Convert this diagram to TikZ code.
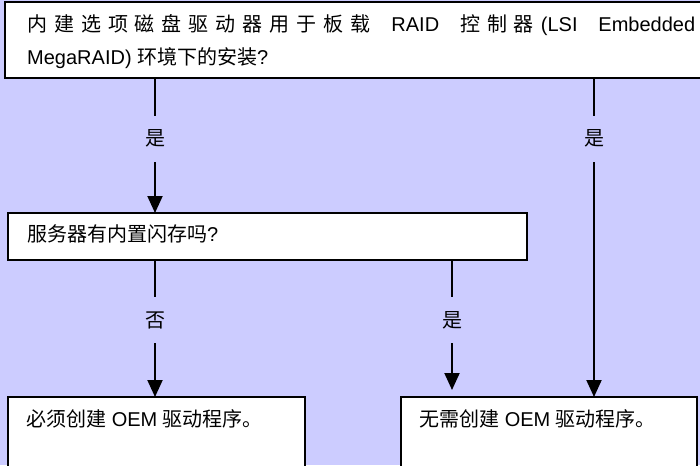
\documentclass[tikz,border=0pt]{standalone}
\usepackage{fontspec}
\setmainfont{Liberation Sans}
\newfontfamily\cjk{Noto Sans CJK SC}
\usetikzlibrary{arrows.meta}
\definecolor{bg}{RGB}{204,204,255}
\begin{document}
\begin{tikzpicture}[x=1pt,y=-1pt,
  font=\fontsize{20}{24}\selectfont,
  box/.style={draw=black, line width=2pt, fill=white, inner sep=0pt, outer sep=0pt, anchor=north west},
  txt/.style={anchor=base west, inner sep=0pt, text=black},
  conn/.style={draw=black, line width=2pt, -{Triangle[width=15pt,length=17pt]}},
  lbl/.style={fill=bg, inner sep=0pt, minimum height=46pt, minimum width=22pt, text=black}]
\useasboundingbox (0,0) rectangle (700,465);
\clip (0,0) rectangle (700,465);
\fill[bg] (0,0) rectangle (700,465);

% boxes
\node[box, minimum width=698pt, minimum height=76pt] (q1) at (5,2) {};
\node[box, minimum width=519pt, minimum height=47pt] (q2) at (8,213) {};
\node[box, minimum width=297pt, minimum height=90pt] (b1) at (8,397) {};
\node[box, minimum width=296pt, minimum height=90pt] (b2) at (401,397) {};

% texts
\node[txt] (t1a) at (27,32) {\hbox to 668pt{{\cjk 内\hfil 建\hfil 选\hfil 项\hfil 磁\hfil 盘\hfil 驱\hfil 动\hfil 器\hfil 用\hfil 于\hfil 板\hfil 载}\hfil\hfil\hfil RAID\hfil\hfil\hfil{\cjk 控\hfil 制\hfil 器}\hfil (LSI\hfil\hfil\hfil Embedded}};
\node[txt] (t1b) at (27,65) {MegaRAID) {\cjk 环境下的安装}?};
\node[txt] (t2) at (27,241) {{\cjk 服务器有内置闪存吗}?};
\node[txt] (t3) at (26,426) {{\cjk 必须创建} OEM {\cjk 驱动程序。}};
\node[txt] (t4) at (419,426) {{\cjk 无需创建} OEM {\cjk 驱动程序。}};

% connector columns
\coordinate (xl) at (155,0);
\coordinate (xm) at (452,0);
\coordinate (xr) at (594,0);

\draw[conn] (q1.south -| xl) -- node[lbl, pos=0.45] (l1) {\cjk 是} (q2.north -| xl);
\draw[conn] (q1.south -| xr) -- node[lbl, pos=0.19] (l2) {\cjk 是} (b2.north -| xr);
\draw[conn] (q2.south -| xl) -- node[lbl, pos=0.44] (l3) {\cjk 否} (b1.north -| xl);
\draw[conn, shorten >=7pt] (q2.south -| xm) -- node[lbl, pos=0.44] (l4) {\cjk 是} (b2.north -| xm);
\end{tikzpicture}
\end{document}
